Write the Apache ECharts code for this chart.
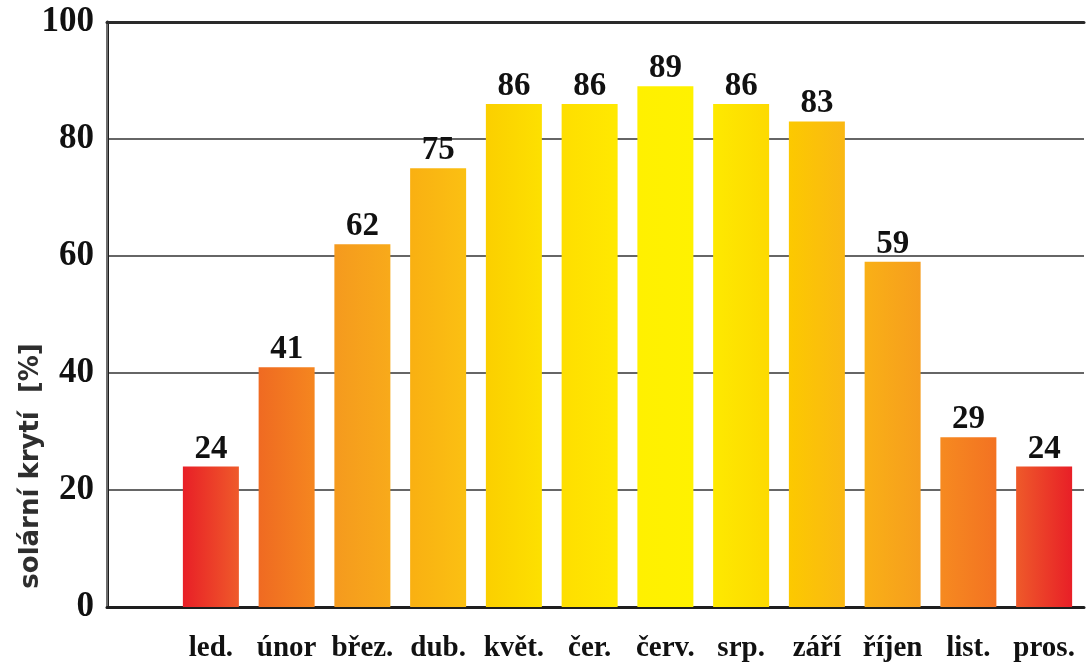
<!DOCTYPE html>
<html>
<head>
<meta charset="utf-8">
<script src="https://cdn.jsdelivr.net/npm/echarts@6/dist/echarts.min.js"></script>
<style>
  html, body { margin: 0; padding: 0; background: #ffffff; }
  #chart { width: 1086px; height: 663px; }
</style>
</head>
<body>
<div id="chart"></div>
<script>
// Monthly solar coverage (percent)
const months = ['led.', 'únor', 'břez.', 'dub.', 'květ.', 'čer.', 'červ.', 'srp.', 'září', 'říjen', 'list.', 'pros.'];
const coverage = [24, 41, 62, 75, 86, 86, 89, 86, 83, 59, 29, 24];
const yTicks = [0, 20, 40, 60, 80, 100];
const axisTitle = 'solární krytí  [%]';

// left -> right shade of each bar: red in winter, yellow in summer
const barShades = [
  ['#e81f27', '#ef5a2a'],
  ['#ef6a22', '#f5861f'],
  ['#f59a1e', '#f8aa1a'],
  ['#f9b012', '#fbc012'],
  ['#fbcf00', '#fde000'],
  ['#fede00', '#ffe900'],
  ['#fff000', '#fff200'],
  ['#fee900', '#fdda00'],
  ['#fcc900', '#fab814'],
  ['#f9b016', '#f69d1e'],
  ['#f68a20', '#f37222'],
  ['#ee5a2a', '#e81f27']
];

const serif = '"Liberation Serif", "DejaVu Serif", serif';

const bars = coverage.map((v, i) => ({
  value: v,
  itemStyle: {
    color: new echarts.graphic.LinearGradient(0, 0, 1, 0, [
      { offset: 0, color: barShades[i][0] },
      { offset: 1, color: barShades[i][1] }
    ])
  }
}));

const chart = echarts.init(document.getElementById('chart'), null, { renderer: 'canvas' });

chart.setOption({
  backgroundColor: '#ffffff',
  animation: false,
  grid: [
    { left: 107, right: 2, top: 22, bottom: 56 },   // frame + gridlines
    { left: 173, right: 4, top: 22, bottom: 56 }    // bars
  ],
  graphic: [{
    type: 'text',
    x: 31,
    y: 466,
    rotation: Math.PI / 2,
    style: {
      text: axisTitle,
      font: 'bold 26px "DejaVu Sans", Verdana, sans-serif',
      fill: '#2e2e2e',
      align: 'center',
      verticalAlign: 'middle'
    }
  }],
  xAxis: [
    {
      gridIndex: 0, type: 'value', position: 'bottom', min: 0, max: 1,
      axisLine: { show: true, lineStyle: { color: '#1e1e1e', width: 3 } },
      axisTick: { show: false }, axisLabel: { show: false }, splitLine: { show: false }
    },
    {
      gridIndex: 0, type: 'value', position: 'top', min: 0, max: 1,
      axisLine: { show: true, onZero: false, lineStyle: { color: '#2a2a2a', width: 3 } },
      axisTick: { show: false }, axisLabel: { show: false }, splitLine: { show: false }
    },
    {
      gridIndex: 1, type: 'category', data: months,
      axisLine: { show: false }, axisTick: { show: false },
      axisLabel: {
        interval: 0,
        margin: 27,
        color: '#111',
        fontFamily: serif,
        fontWeight: 'bold',
        fontSize: 29
      }
    }
  ],
  yAxis: [
    {
      gridIndex: 0, type: 'value', min: 0, max: 100, interval: 20, position: 'left',
      axisLine: { show: true, lineStyle: { color: '#1e1e1e', width: 3 } },
      axisTick: { show: false },
      axisLabel: {
        margin: 13,
        color: '#111',
        fontFamily: serif,
        fontWeight: 'bold',
        fontSize: 35,
        formatter: v => (yTicks.includes(v) ? String(v) : '')
      },
      splitLine: { show: true, lineStyle: { color: '#333', width: 1.5 } }
    },
    {
      gridIndex: 0, type: 'value', min: 0, max: 100, interval: 20, position: 'right',
      axisLine: { show: true, lineStyle: { color: '#8a8a8a', width: 1.5 } },
      axisTick: { show: false }, axisLabel: { show: false }, splitLine: { show: false }
    },
    {
      gridIndex: 1, type: 'value', min: 0, max: 100, interval: 20, show: false
    }
  ],
  series: [{
    type: 'bar',
    xAxisIndex: 2,
    yAxisIndex: 2,
    data: bars,
    barWidth: 56,
    label: {
      show: true,
      position: 'top',
      distance: 1,
      color: '#111',
      fontFamily: serif,
      fontWeight: 'bold',
      fontSize: 33
    }
  }]
});
</script>
</body>
</html>
